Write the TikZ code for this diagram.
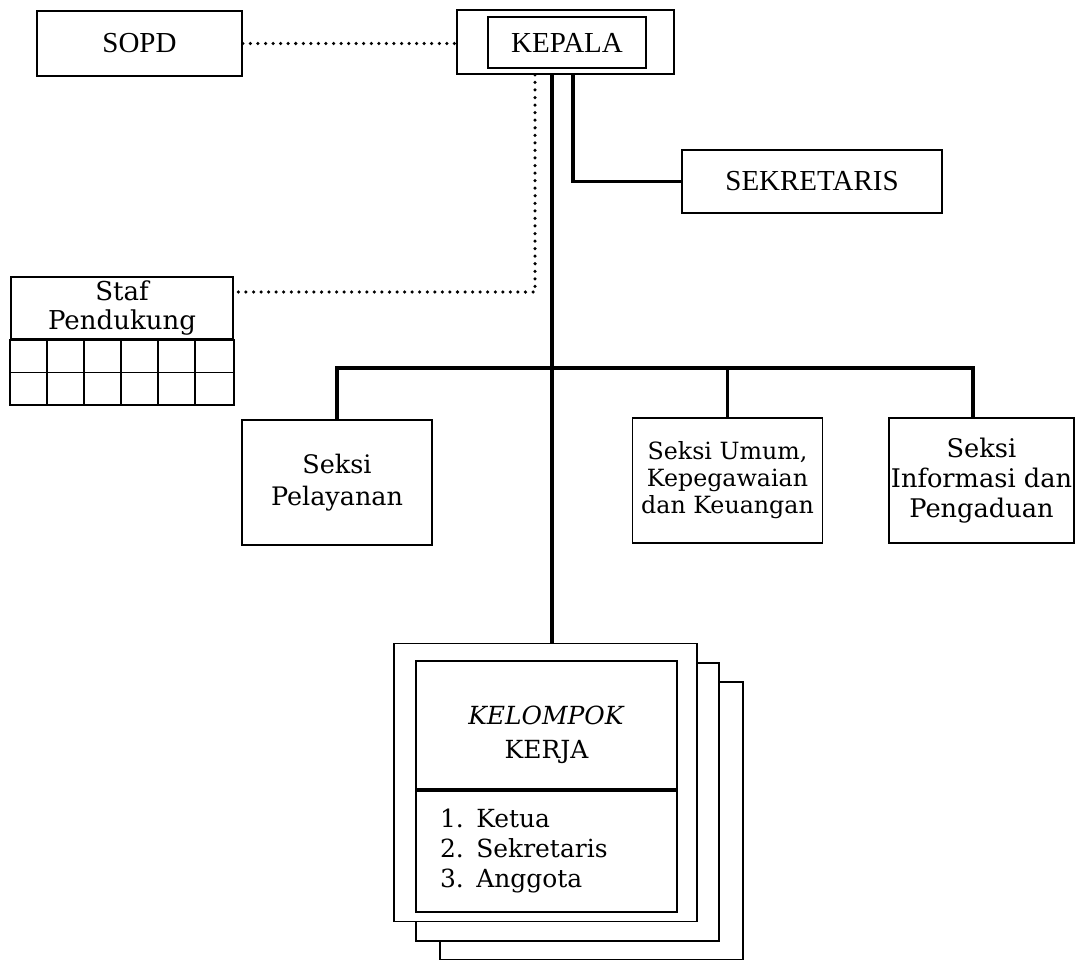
\documentclass[tikz,border=0pt]{standalone}
\usepackage{fontspec}
\setmainfont{DejaVu Serif}
\newfontfamily\timesfont{Liberation Serif}
\usepackage{tikz}
\usetikzlibrary{positioning}

\begin{document}
\begin{tikzpicture}[x=0.02cm,y=-0.02cm]
	\tikzstyle{kotak}=[draw,line width=1pt,fill=white,inner sep=2pt,align=center]
	\tikzstyle{tipis}=[line width=0.8pt]
	\tikzstyle{garis}=[line width=1.8pt]
	\tikzstyle{titik}=[line width=2pt,line cap=round,dash pattern=on 0pt off 4.3pt]
	\tikzstyle{kapital}=[font={\timesfont\fontsize{16.5}{19}\selectfont}]
	
	\useasboundingbox (0,0) rectangle (1076,960);
	
	\node[kotak,kapital,minimum width=4.1cm,minimum height=1.3cm](sopd) at (139.5,43.5){SOPD};
	\node[kotak,minimum width=4.34cm,minimum height=1.28cm](kepala) at (565.5,42){};
	\node[kotak,kapital,minimum width=3.16cm,minimum height=1.02cm](kepalaIn) at (567,42.5){KEPALA};
	\node[kotak,kapital,minimum width=5.2cm,minimum height=1.26cm](sekretaris) at (812,181.5){SEKRETARIS};
	
	\node[kotak,minimum width=4.44cm,minimum height=1.24cm,inner sep=1pt,font=\fontsize{14.8}{17}\selectfont](staf) at (122,308){Staf\\Pendukung};
	\draw[tipis] (staf.south west) rectangle ([yshift=-1.3cm]staf.south east);
	\draw[tipis] ([yshift=-0.65cm]staf.south west) -- ([yshift=-0.65cm]staf.south east);
	\foreach \i in {1,...,5}
		\draw[tipis] ([xshift=\i*0.74cm]staf.south west) -- ++(0,65);
	
	\node[kotak,minimum width=3.8cm,minimum height=2.5cm,font=\fontsize{14.5}{18}\selectfont](pelayanan) at (337,482.5){Seksi\\Pelayanan};
	\node[kotak,minimum width=3.8cm,minimum height=2.5cm,font=\fontsize{13.5}{15.4}\selectfont](umum) at (727.5,480.5){Seksi Umum,\\Kepegawaian\\dan Keuangan};
	\node[kotak,minimum width=3.7cm,minimum height=2.5cm,inner sep=1pt,font=\fontsize{14.6}{17}\selectfont](informasi) at (981.5,480.5){Seksi\\Informasi dan\\Pengaduan};
	
	\node[kotak,minimum width=6.06cm,minimum height=5.56cm](kk3) at (591.5,821){};
	\node[kotak,minimum width=6.06cm,minimum height=5.56cm](kk2) at (567.5,802){};
	\node[kotak,minimum width=6.06cm,minimum height=5.56cm](kk) at (545.5,782.5){};
	\node[kotak,minimum width=5.22cm,minimum height=2.56cm](kkAtas) at (546.5,725){};
	\node[align=center,font=\fontsize{14.2}{19.3}\selectfont](kkJudul) at ([yshift=-0.2cm]kkAtas.center){\textit{KELOMPOK}\\KERJA};
	\node[kotak,below=0pt of kkAtas,minimum width=5.22cm,minimum height=2.42cm,inner xsep=0.48cm,text width=4.26cm,align=left,font=\fontsize{14.2}{17}\selectfont](kkBawah){1.\enspace Ketua\\2.\enspace Sekretaris\\3.\enspace Anggota};
	
	\coordinate (pusat) at ([xshift=-0.27cm]kepala.south);
	\coordinate (cabang) at (552,368);
	
	\draw[titik] (sopd.east) -- (sopd.east -| kepala.west);
	\draw[titik] ([xshift=-0.61cm]kepala.south) |- ([yshift=0.32cm]staf.east);
	
	\draw[garis] ([xshift=0.15cm]kepala.south) |- (sekretaris.west);
	\draw[garis] (pusat) -- (pusat |- kk.north);
	
	\draw[garis] (pelayanan.north) |- (cabang) -| ([xshift=-0.17cm]informasi.north);
	\draw[garis] (umum.north) -- (umum.north |- cabang);
	
\end{tikzpicture}
\end{document}
